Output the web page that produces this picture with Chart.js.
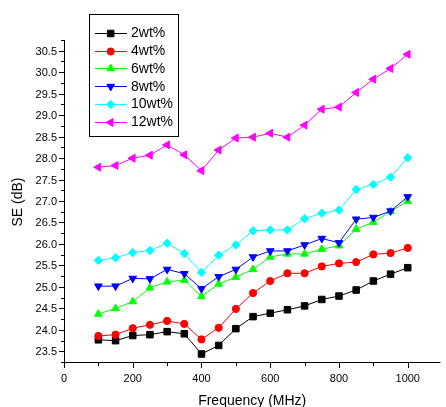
<!DOCTYPE html>
<html>
<head>
<meta charset="utf-8">
<script src="https://cdn.jsdelivr.net/npm/chart.js@4/dist/chart.umd.min.js"></script>
<style>
html,body{margin:0;padding:0;background:#fff;}
#wrap{width:446px;height:407px;position:relative;}
</style>
</head>
<body>
<div id="wrap"><canvas id="c" width="446" height="407"></canvas></div>
<script>
const freq = [100,150,200,250,300,350,400,450,500,550,600,650,700,750,800,850,900,950,1000];
const se2  = [23.79,23.77,23.89,23.91,23.98,23.93,23.46,23.66,24.05,24.33,24.41,24.49,24.58,24.73,24.81,24.95,25.16,25.32,25.47];
const se4  = [23.88,23.91,24.06,24.14,24.23,24.16,23.80,24.07,24.51,24.88,25.16,25.34,25.34,25.50,25.57,25.60,25.78,25.81,25.93];
const se6  = [24.39,24.52,24.68,25.00,25.14,25.18,24.80,25.09,25.25,25.43,25.72,25.79,25.79,25.90,25.98,26.37,26.53,26.78,27.02];
const se8  = [25.04,25.04,25.22,25.21,25.43,25.33,24.98,25.26,25.43,25.72,25.86,25.86,26.00,26.15,26.05,26.60,26.64,26.79,27.12];
const se10 = [25.64,25.70,25.82,25.87,26.04,25.80,25.36,25.76,26.00,26.33,26.35,26.35,26.61,26.74,26.81,27.29,27.41,27.58,28.03];
const se12 = [27.81,27.85,28.02,28.09,28.33,28.10,27.73,28.21,28.49,28.51,28.60,28.51,28.79,29.16,29.21,29.55,29.86,30.11,30.44];
const seriesLabels = ['2wt%','4wt%','6wt%','8wt%','10wt%','12wt%'];
const yMajorTicks = [23.5,24.0,24.5,25.0,25.5,26.0,26.5,27.0,27.5,28.0,28.5,29.0,29.5,30.0,30.5];
const xMajorTicks = [0,200,400,600,800,1000];

const FONT = "'Liberation Sans', Arial, sans-serif";
const allSeries = [se2,se4,se6,se8,se10,se12];
const colors = ['#000000','#ff0000','#00ff00','#0000ff','#00ffff','#ff00ff'];
const styles = [
  {pointStyle:'rect', rotation:0, radius:4.6},
  {pointStyle:'circle', rotation:0, radius:3.6},
  {pointStyle:'triangle', rotation:0, radius:4.4},
  {pointStyle:'triangle', rotation:180, radius:4.4},
  {pointStyle:'rectRot', rotation:0, radius:4.2},
  {pointStyle:'triangle', rotation:-90, radius:4.6}
];

const datasets = allSeries.map((arr,i)=>({
  label: seriesLabels[i],
  data: arr.map((v,j)=>({x:freq[j], y:v})),
  borderColor: colors[i],
  backgroundColor: colors[i],
  pointBackgroundColor: colors[i],
  pointBorderColor: colors[i],
  borderWidth: 1,
  pointBorderWidth: 1,
  pointRadius: styles[i].radius,
  pointHoverRadius: styles[i].radius,
  pointStyle: styles[i].pointStyle,
  pointRotation: styles[i].rotation,
  tension: 0,
  fill: false,
  order: -i
}));

const axesPlugin = {
  id: 'axesTicks',
  beforeDatasetsDraw(chart){
    const {ctx, chartArea:{left,right,top,bottom}, scales:{x,y}} = chart;
    ctx.save();
    ctx.strokeStyle = '#000';
    ctx.lineWidth = 1;
    ctx.beginPath();
    ctx.moveTo(left+0.5, top); ctx.lineTo(left+0.5, bottom);
    ctx.moveTo(left, bottom-0.5); ctx.lineTo(right, bottom-0.5);
    for (let v = y.min; v <= y.max + 1e-9; v += 0.25) {
      const py = Math.round(y.getPixelForValue(v)) - 0.5;
      const major = Math.abs(v*2 - Math.round(v*2)) < 1e-6;
      const len = major ? 5 : 3;
      ctx.moveTo(left+1, py); ctx.lineTo(left+1-len-1, py);
    }
    for (let v = 0; v <= 1000; v += 100) {
      const px = Math.round(x.getPixelForValue(v)) + 0.5;
      const major = v % 200 === 0;
      const len = major ? 5 : 3;
      ctx.moveTo(px, bottom-1); ctx.lineTo(px, bottom-1+len+1);
    }
    ctx.stroke();
    ctx.restore();
  }
};

const legendPlugin = {
  id: 'boxLegend',
  afterDraw(chart){
    const ctx = chart.ctx;
    ctx.save();
    ctx.strokeStyle = '#000';
    ctx.lineWidth = 1;
    ctx.strokeRect(89.5, 14.5, 89, 122);
    ctx.font = "14px " + FONT;
    ctx.textBaseline = 'middle';
    ctx.textAlign = 'left';
    chart.data.datasets.forEach((ds,i)=>{
      const yy = 32.7 + i*17.86;
      ctx.strokeStyle = ds.borderColor;
      ctx.lineWidth = 1;
      ctx.beginPath();
      ctx.moveTo(95, Math.round(yy)+0.5); ctx.lineTo(127, Math.round(yy)+0.5);
      ctx.stroke();
      ctx.fillStyle = ds.pointBackgroundColor;
      ctx.strokeStyle = ds.pointBorderColor;
      Chart.helpers.drawPoint(ctx, {pointStyle: ds.pointStyle, rotation: ds.pointRotation, radius: ds.pointRadius, borderWidth: 1}, 110.7, Math.round(yy)+0.5);
      ctx.fillStyle = '#000';
      ctx.fillText(ds.label, 131, yy + 0.5);
    });
    ctx.restore();
  }
};

new Chart(document.getElementById('c'), {
  type: 'line',
  data: { datasets },
  options: {
    responsive: false,
    animation: false,
    devicePixelRatio: 1,
    layout: { padding: { top: 41, right: 0, bottom: 0, left: 0 } },
    plugins: { legend: { display: false }, tooltip: { enabled: false } },
    scales: {
      x: {
        type: 'linear',
        min: 0, max: 1095,
        afterBuildTicks: (s)=>{ s.ticks = xMajorTicks.map(v=>({value:v})); },
        afterFit: (s)=>{ s.height = 44; },
        grid: { display: false, drawTicks: true, tickLength: 5 },
        border: { display: false },
        ticks: { color: '#000', font: { family: FONT, size: 11 }, padding: 4, maxRotation: 0, autoSkip: false,
                 callback: (v)=> String(v) },
        title: { display: true, text: 'Frequency (MHz)', color: '#000', font: { family: FONT, size: 14 }, padding: { top: 0, bottom: -3 } }
      },
      y: {
        type: 'linear',
        min: 23.25, max: 30.75,
        afterBuildTicks: (s)=>{ s.ticks = yMajorTicks.map(v=>({value:v})); },
        afterFit: (s)=>{ s.width = 64; },
        grid: { display: false, drawTicks: true, tickLength: 5 },
        border: { display: false },
        ticks: { color: '#000', font: { family: FONT, size: 11 }, padding: 2, autoSkip: false,
                 callback: (v)=> Number(v).toFixed(1) },
        title: { display: true, text: 'SE (dB)', color: '#000', font: { family: FONT, size: 14 }, padding: { top: 10, bottom: 0 } }
      }
    }
  },
  plugins: [axesPlugin, legendPlugin]
});
</script>
</body>
</html>
